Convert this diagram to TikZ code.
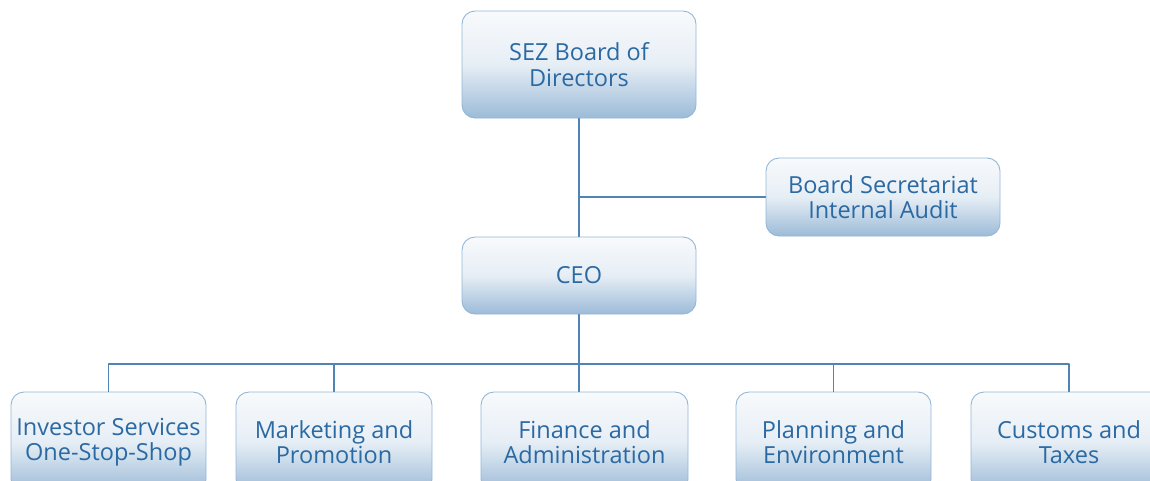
\documentclass[tikz,border=0pt]{standalone}
\usepackage{fontspec}
\setmainfont{Open Sans}
\definecolor{txtblue}{HTML}{2B69A3}
\definecolor{edgeblue}{HTML}{93B6D6}
\definecolor{lineblue}{HTML}{4F84B5}
\definecolor{boxtop}{HTML}{F8FAFC}
\definecolor{boxmid}{HTML}{E6EEF5}
\definecolor{boxbot}{HTML}{9CBBD8}
\tikzset{orgbox/.style={draw=edgeblue,line width=0.9pt,rounded corners=13pt,
    top color=boxtop,bottom color=boxbot,middle color=boxmid,
    text=txtblue,align=center,font=\fontsize{23.5}{25.5}\selectfont,inner sep=0pt},
  conn/.style={draw=lineblue,line width=1.1pt}}

\begin{document}
\begin{tikzpicture}[line cap=round,line join=round,x=1pt,y=-1pt]
\useasboundingbox (0,0) rectangle (1150,480);
\clip (0,0) rectangle (1150,480);
\node [orgbox,minimum width=234pt,minimum height=107pt] (board) at (579,64.5) {SEZ Board of\\Directors};
\node [orgbox,minimum width=234pt,minimum height=78pt] (secr) at (883,197) {Board Secretariat\\Internal Audit};
\node [orgbox,minimum width=234pt,minimum height=77pt] (ceo) at (579,275.5) {CEO};
\node [orgbox,minimum width=195pt,minimum height=100pt] (inv) at (108.5,442) {Investor Services\\One-Stop-Shop};
\node [orgbox,minimum width=196pt,minimum height=100pt] (mkt) at (334,442) {Marketing and\\Promotion};
\node [orgbox,minimum width=207pt,minimum height=100pt] (fin) at (584.5,442) {Finance and\\Administration};
\node [orgbox,minimum width=195pt,minimum height=100pt] (plan) at (833.5,442) {Planning and\\Environment};
\node [orgbox,minimum width=196pt,minimum height=100pt] (cust) at (1069,442) {Customs and\\Taxes};
\coordinate (bus) at (579,364);
\draw [conn] (board.south) -- (ceo.north);
\draw [conn] (board.south |- secr.west) -- (secr.west);
\draw [conn] (ceo.south) -- (bus) -- (bus |- fin.north);
\draw [conn] (inv.north) -- (inv.north |- bus) -- (cust.north |- bus) -- (cust.north);
\draw [conn] (mkt.north) -- (mkt.north |- bus);
\draw [conn] (plan.north) -- (plan.north |- bus);
%\draw [conn] (fin.north) -- (bus);
\end{tikzpicture}
\end{document}
